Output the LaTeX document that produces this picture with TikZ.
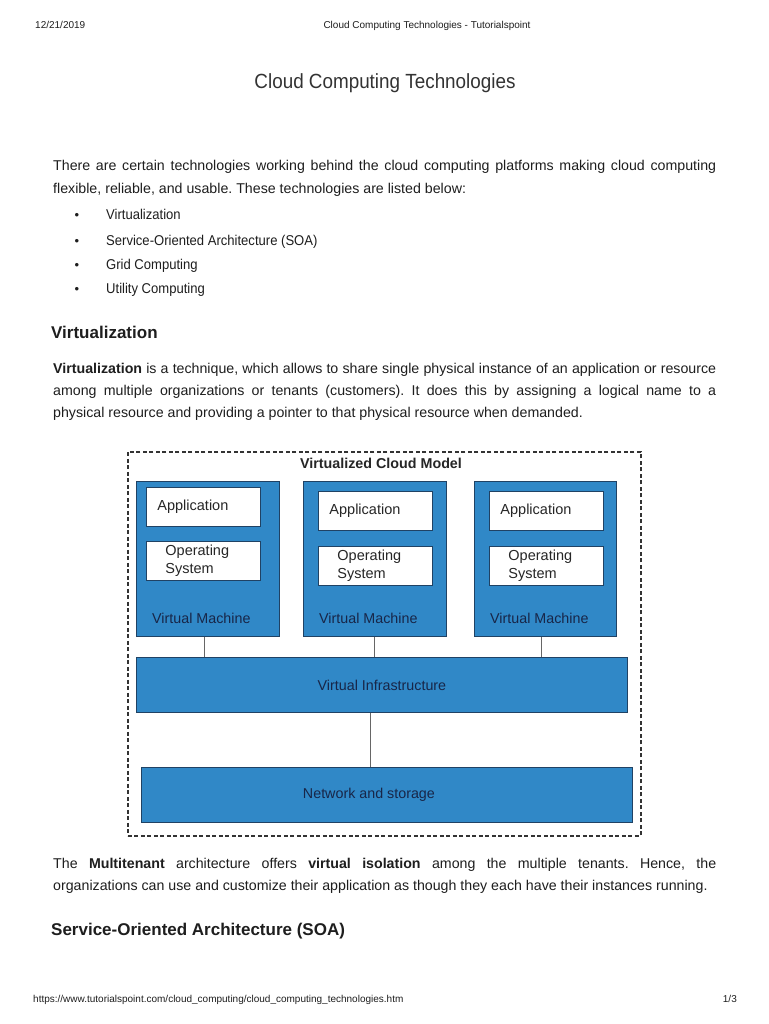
\documentclass[tikz,border=0pt]{standalone}
\usepackage{fontspec}
\setmainfont{Liberation Sans}
\newfontfamily\narrowsans{Liberation Sans}[FakeStretch = 0.92]
\usetikzlibrary{positioning}
\definecolor{vmblue}{RGB}{48,136,199}
\definecolor{vmedge}{RGB}{32,66,100}
\definecolor{vmtext}{RGB}{24,38,72}
\definecolor{bodytext}{RGB}{30,30,30}
\newcommand{\fullline}[1]{\makebox[663pt][s]{#1}}
\frenchspacing

\begin{document}
\begin{tikzpicture}[
    x = 1pt, y = -1pt,
    txt/.style = {anchor = base west, inner sep = 0pt, text = bodytext,
      font = \fontsize{14.2}{17}\selectfont},
    listtxt/.style = {txt, font = \narrowsans\fontsize{14.2}{17}\selectfont},
    small/.style = {anchor = base, inner sep = 0pt, text = bodytext,
      font = \fontsize{10}{12}\selectfont},
    head/.style = {anchor = base west, inner sep = 0pt, text = bodytext,
      font = \fontsize{17}{20}\selectfont\bfseries},
    frame/.style = {draw = black!80, dash pattern = on 4pt off 2.5pt,
      line width = 1.6pt, anchor = north west, inner sep = 0pt},
    vmbox/.style = {draw = vmedge, fill = vmblue, line width = 0.9pt,
      anchor = north west, inner sep = 0pt},
    whitebox/.style = {draw = vmedge, fill = white, line width = 0.9pt,
      anchor = north west, minimum width = 114pt, minimum height = 39pt,
      text width = 114pt - 2*#1, inner xsep = #1, inner ysep = 0pt,
      align = left, text = black!85, font = \fontsize{14.5}{17.5}\selectfont},
    boxtext/.style = {inner sep = 0pt, text = vmtext,
      font = \fontsize{14.3}{17}\selectfont},
    wire/.style = {draw = black!60, line width = 0.9pt},
  ]
  \fill[white] (0,0) rectangle (768,1024);
  \useasboundingbox (0,0) rectangle (768,1024);

  % page header
  \node[small, anchor = base west] (date) at (35,29) {12/21/2019};
  \node[small] (pagetitle) at (427,29) {Cloud Computing Technologies - Tutorialspoint};
  \node[anchor = base, inner sep = 0pt, text = black!80,
    font = \narrowsans\fontsize{20.5}{24}\selectfont] (title) at (385,89) {Cloud Computing Technologies};

  % introduction
  \node[txt] (introa) at (53,171) {\fullline{There are certain technologies working behind the cloud computing platforms making cloud computing}};
  \node[txt] (introb) at (53,194) {flexible, reliable, and usable. These technologies are listed below:};
  \foreach \y/\t [count = \i] in {220/Virtualization, 245/{Service-Oriented Architecture (SOA)},
      269/Grid Computing, 293/Utility Computing} {
    \node[small, font = \fontsize{13}{14}\selectfont] (dot\i) at (77,\y) {\textbullet};
    \node[listtxt] (item\i) at (106,\y) {\t};
  }

  % virtualization
  \node[head] (virthead) at (51,338) {Virtualization};
  \node[txt] (virta) at (53,373) {\fullline{\textbf{Virtualization} is a technique, which allows to share single physical instance of an application or resource}};
  \node[txt] (virtb) at (53,395) {\fullline{among multiple organizations or tenants (customers). It does this by assigning a logical name to a}};
  \node[txt] (virtc) at (53,417) {physical resource and providing a pointer to that physical resource when demanded.};

  % virtualized cloud model
  \node[frame, minimum width = 513pt, minimum height = 384pt] (model) at (127,451) {};
  \node[boxtext, anchor = base, text = black!85, font = \fontsize{14.3}{17}\selectfont\bfseries]
    (modelname) at (381,468) {Virtualized Cloud Model};

  \node[vmbox, minimum width = 143pt, minimum height = 155pt] (vm1) at (136,481) {};
  \node[vmbox, minimum width = 143pt, minimum height = 155pt] (vm2) at (303,481) {};
  \node[vmbox, minimum width = 142pt, minimum height = 155pt] (vm3) at (474,481) {};

  \node[whitebox = 11pt, below right = 6pt and 10pt of vm1.north west] (app1) {Application};
  \node[whitebox = 19pt, below = 14pt of app1.south west, anchor = north west] (os1) {Operating\\System};
  \node[whitebox = 11pt, below right = 10pt and 15pt of vm2.north west] (app2) {Application};
  \node[whitebox = 19pt, below = 15pt of app2.south west, anchor = north west] (os2) {Operating\\System};
  \node[whitebox = 11pt, below right = 10pt and 15pt of vm3.north west] (app3) {Application};
  \node[whitebox = 19pt, below = 15pt of app3.south west, anchor = north west] (os3) {Operating\\System};

  \foreach \v in {1,2,3} {
    \node[boxtext, anchor = base west] (vmname\v) at ([xshift = 16pt, yshift = 13pt]vm\v.south west) {Virtual Machine};
  }

  \node[vmbox, minimum width = 491pt, minimum height = 55pt] (vi) at (136,657) {};
  \node[boxtext] (viname) at (vi.center) {Virtual Infrastructure};
  \node[vmbox, minimum width = 491pt, minimum height = 55pt] (ns) at (141,767) {};
  \node[boxtext] (nsname) at ([xshift = -18pt]ns.center) {Network and storage};

  \foreach \v/\dx in {1/-4,2/-1,3/-4} {
    \draw[wire] ([xshift = \dx pt]vm\v.south) -- ([xshift = \dx pt]vm\v.south |- vi.north);
  }
  \draw[wire] ([xshift = -12pt]vi.south) -- ([xshift = -12pt]vi.south |- ns.north);

  % multitenant
  \node[txt] (multia) at (53,868) {\fullline{The \textbf{Multitenant} architecture offers \textbf{virtual isolation} among the multiple tenants. Hence, the}};
  \node[txt] (multib) at (53,890) {organizations can use and customize their application as though they each have their instances running.};
  \node[head] (soahead) at (51,935) {Service-Oriented Architecture (SOA)};

  % page footer
  \node[small, anchor = base west] (url) at (33,1002) {https://www.tutorialspoint.com/cloud\_computing/cloud\_computing\_technologies.htm};
  \node[small, anchor = base east] (pageno) at (737,1002) {1/3};
\end{tikzpicture}
\end{document}
